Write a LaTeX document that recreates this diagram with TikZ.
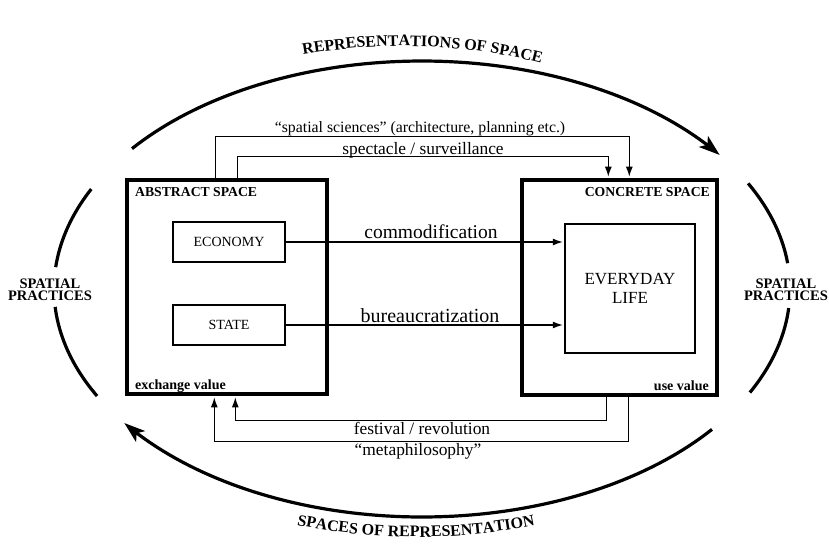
\documentclass[tikz,border=0pt]{standalone}
\usepackage{fontspec}
\setmainfont{Liberation Serif}
\usetikzlibrary{arrows.meta,decorations.text}
\begin{document}
\begin{tikzpicture}[x=1pt,y=-1pt,
  spacebox/.style={draw,line width=3.4pt,inner sep=0pt},
  innerbox/.style={draw,line width=1.2pt,inner sep=0pt,font=\fontsize{14}{16}\selectfont},
  conn/.style={line width=1.3pt,-{Latex[length=10pt,width=7pt]},shorten >=1.6pt},
  ell/.style={line width=3.2pt},
  elltip/.style={-{Stealth[length=21pt,width=14pt,inset=5pt]}},
  lab/.style={inner sep=0pt,anchor=base,font=\fontsize{17.4}{20}\selectfont},
  title/.style={inner sep=0pt,font=\bfseries\fontsize{13.7}{15}\selectfont},
  val/.style={inner sep=0pt,font=\bfseries\fontsize{14}{16}\selectfont},
  side/.style={inner sep=0pt,align=center,font=\bfseries\fontsize{14.5}{12.5}\selectfont}]
\useasboundingbox (0,0) rectangle (829,544);
\fill[white] (0,0) rectangle (829,544);

% big boxes
\node[spacebox,minimum width=200pt,minimum height=214pt] (abs) at (227,287) {};
\node[spacebox,minimum width=195pt,minimum height=215pt] (con) at (619.5,287.5) {};

% inner boxes
\node[innerbox,minimum width=112pt,minimum height=40pt] (eco) at (229,242) {ECONOMY};
\node[innerbox,minimum width=112pt,minimum height=40pt] (state) at (229,325) {STATE};
\node[innerbox,minimum width=130pt,minimum height=129pt,align=center,
      font=\fontsize{17}{19}\selectfont] (life) at (630,288.5) {EVERYDAY\\LIFE};

% titles
\node[title,anchor=base west] (abst) at (135,196) {ABSTRACT SPACE};
\node[title,anchor=base east] (cont) at (710,196) {CONCRETE SPACE};
\node[val,anchor=base west] (exv) at (135,389) {exchange value};
\node[val,anchor=base east] (usv) at (709,390) {use value};

% horizontal connectors
\draw[conn] (eco.east) -- (eco.east -| life.west);
\draw[conn] (state.east) -- (state.east -| life.west);
\node[lab,font=\fontsize{19.5}{22}\selectfont] (lcom) at (431,238) {commodification};
\node[lab,font=\fontsize{20}{22}\selectfont] (lbur) at (430,322) {bureaucratization};

% top connectors
\draw[conn] ([xshift=90pt]abs.north west) -- ++(0,-42) -| ([xshift=109pt]con.north west);
\draw[conn] ([xshift=112pt]abs.north west) -- ++(0,-22) -| ([xshift=88pt]con.north west);
\node[lab,font=\fontsize{15.8}{18}\selectfont] (lsci) at (420,132) {“spatial sciences” (architecture, planning etc.)};
\node[lab] (lspe) at (423,154) {spectacle / surveillance};

% bottom connectors
\draw[conn] ([xshift=86pt]con.south west) -- ++(0,24) -| ([xshift=110pt]abs.south west);
\draw[conn] ([xshift=108pt]con.south west) -- ++(0,45) -| ([xshift=89pt]abs.south west);
\node[lab] (lfes) at (422,434) {festival / revolution};
\node[lab] (lmet) at (418,455) {“metaphilosophy”};

% ellipse arcs
\draw[ell,elltip] plot[domain=142:36,samples=80] ({422+368*cos(\x)},{289-228*sin(\x)});
\draw[ell,elltip] plot[domain=322:216,samples=80] ({422+368*cos(\x)},{289-228*sin(\x)});
\draw[ell] plot[domain=154:174.5,samples=30] ({422+368*cos(\x)},{289-228*sin(\x)});
\draw[ell] plot[domain=184.5:208,samples=30] ({422+368*cos(\x)},{289-228*sin(\x)});
\draw[ell] plot[domain=27.6:6.5,samples=30] ({422+368*cos(\x)},{289-228*sin(\x)});
\draw[ell] plot[domain=-4.8:-27,samples=30] ({422+368*cos(\x)},{289-228*sin(\x)});

% side labels
\node[side] (spl) at (50,290) {SPATIAL\\PRACTICES};
\node[side] (spr) at (786,290) {SPATIAL\\PRACTICES};

% curved labels
\path[decorate,decoration={text along path,text align=center,
  text format delimiters={|}{|},
  text={|\bfseries\fontsize{16}{16}\selectfont|REPRESENTATIONS OF SPACE}}]
  plot[domain=146:26,samples=80] ({403+372*cos(\x)},{289-243*sin(\x)});
\path[decorate,decoration={text along path,text align=center,
  text format delimiters={|}{|},
  text={|\bfseries\fontsize{16}{16}\selectfont|SPACES OF REPRESENTATION}}]
  plot[domain=235:305,samples=80] ({416+388*cos(\x)},{289-248*sin(\x)});
\end{tikzpicture}
\end{document}
